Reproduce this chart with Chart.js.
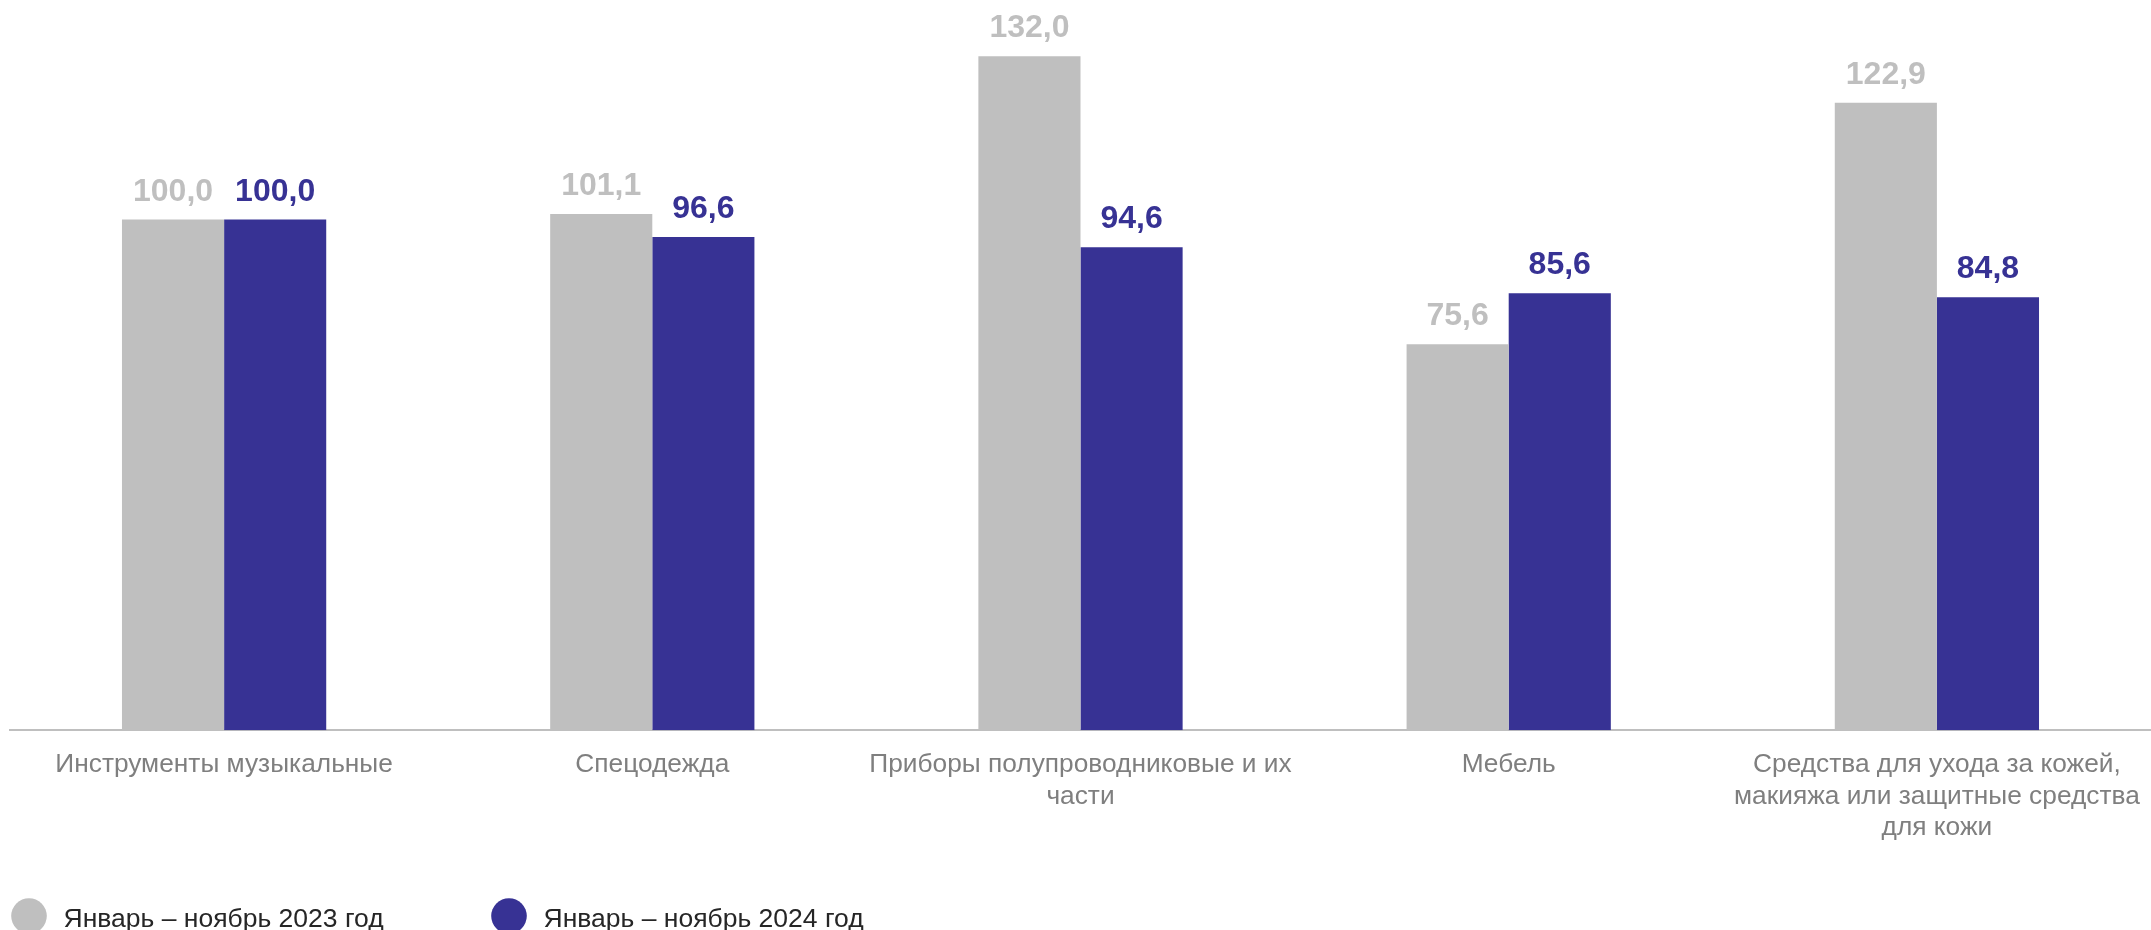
<!DOCTYPE html>
<html lang="ru">
<head>
<meta charset="utf-8">
<title>Динамика импорта</title>
<script src="https://cdn.jsdelivr.net/npm/chart.js@4/dist/chart.umd.min.js"></script>
<style>
  html, body { margin: 0; padding: 0; background: #ffffff; overflow: hidden; }
  canvas { display: block; }
</style>
</head>
<body>
<canvas id="importChart" width="2151" height="930"></canvas>
<script>
const categories = [
    'Инструменты музыкальные',
    'Спецодежда',
    ['Приборы полупроводниковые и их', 'части'],
    'Мебель',
    ['Средства для ухода за кожей,', 'макияжа или защитные средства', 'для кожи']
];
const seriesNames = ['Январь – ноябрь 2023 год', 'Январь – ноябрь 2024 год'];
const values2023 = [100.0, 101.1, 132.0, 75.6, 122.9];
const values2024 = [100.0, 96.6, 94.6, 85.6, 84.8];

const GREY = '#bfbfbf';
const NAVY = '#373294';
const FONT = "'Liberation Sans', Arial, sans-serif";

// value labels above each bar, comma as decimal separator
const valueLabels = {
    id: 'valueLabels',
    afterDatasetsDraw(chart) {
        const ctx = chart.ctx;
        ctx.save();
        ctx.font = 'bold 32px ' + FONT;
        ctx.textAlign = 'center';
        ctx.textBaseline = 'alphabetic';
        chart.data.datasets.forEach((ds, i) => {
            const meta = chart.getDatasetMeta(i);
            ctx.fillStyle = ds.backgroundColor;
            meta.data.forEach((bar, j) => {
                const txt = ds.data[j].toFixed(1).replace('.', ',');
                ctx.fillText(txt, bar.x, bar.y - 19);
            });
        });
        ctx.restore();
    }
};

// legend at the bottom left, circles + text (partly cut by the canvas edge)
const bottomLegend = {
    id: 'bottomLegend',
    afterDraw(chart) {
        const ctx = chart.ctx;
        const xs = [29, 509];
        const cy = chart.height - 14;
        ctx.save();
        ctx.font = '26.5px ' + FONT;
        ctx.textBaseline = 'alphabetic';
        ctx.textAlign = 'left';
        chart.data.datasets.forEach((ds, i) => {
            ctx.fillStyle = ds.backgroundColor;
            ctx.beginPath();
            ctx.arc(xs[i], cy, 17.8, 0, Math.PI * 2);
            ctx.fill();
            ctx.fillStyle = '#262626';
            ctx.fillText(ds.label, xs[i] + 34.5, chart.height - 3.5);
        });
        ctx.restore();
    }
};

const ctx = document.getElementById('importChart').getContext('2d');
const importChart = new Chart(ctx, {
    type: 'bar',
    data: {
        labels: categories,
        datasets: [{
            label: seriesNames[0],
            data: values2023,
            backgroundColor: GREY,
            borderWidth: 0
        }, {
            label: seriesNames[1],
            data: values2024,
            backgroundColor: NAVY,
            borderWidth: 0
        }]
    },
    options: {
        responsive: false,
        animation: false,
        categoryPercentage: 0.477,
        barPercentage: 1.0,
        layout: {
            padding: { left: 10, right: 0, top: 0, bottom: 86 }
        },
        plugins: {
            legend: { display: false },
            tooltip: { enabled: false }
        },
        scales: {
            x: {
                grid: { display: false, drawTicks: true, tickLength: 19 },
                border: { display: true, color: GREY, width: 2 },
                ticks: {
                    color: '#7f7f7f',
                    padding: 0,
                    maxRotation: 0,
                    autoSkip: false,
                    font: { family: FONT, size: 26.3, lineHeight: 1.2 }
                }
            },
            y: {
                display: false,
                min: 0,
                max: 143,
                beginAtZero: true
            }
        }
    },
    plugins: [valueLabels, bottomLegend]
});
</script>
</body>
</html>
